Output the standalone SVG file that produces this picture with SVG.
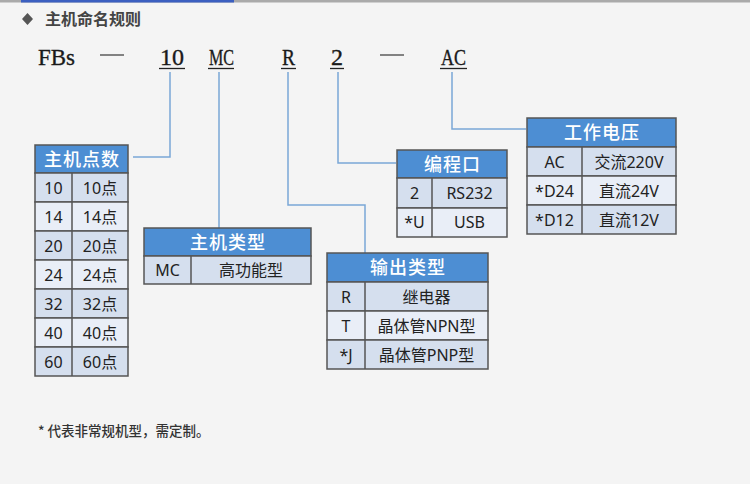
<svg xmlns="http://www.w3.org/2000/svg" width="750" height="484" viewBox="0 0 750 484">
<style>
.bg{fill:#f4f4f4}
.code{font-family:"Liberation Serif","DejaVu Serif",serif;font-size:23px;fill:#1a1a1a;stroke:#1a1a1a;stroke-width:0.35}
.ul{stroke:#222;stroke-width:1.3}
.conn{fill:none;stroke:#7aa7d6;stroke-width:1.5}
.hd{fill:#4d8ed3;stroke:#555;stroke-width:1.5}
.rd{fill:#d5dfee;stroke:#555;stroke-width:1.5}
.rl{fill:#e9eef7;stroke:#555;stroke-width:1.5}
.ht{font-family:"Noto Sans CJK SC","Noto Sans",sans-serif;font-size:18px;font-weight:500;letter-spacing:1px;fill:#fff;text-anchor:middle}
.ct{font-family:"Noto Sans","Noto Sans CJK SC",sans-serif;font-size:16px;fill:#222;text-anchor:middle}
.div{stroke:#555;stroke-width:1.5}
.title{font-family:"Noto Sans CJK SC",sans-serif;font-size:16px;font-weight:bold;fill:#444}
.note{font-family:"Noto Sans CJK SC",sans-serif;font-size:13.5px;font-weight:500;fill:#333}
</style>
<rect class="bg" x="0" y="0" width="750" height="484"/>
<rect x="0" y="0" width="750" height="2.5" fill="#aaaaaa"/>
<rect x="21" y="0" width="213" height="2.5" fill="#3b5fc0"/>

<g id="title">
<path d="M27.5,13 L33,19 L27.5,25 L22,19 Z" fill="#555"/>
<text class="title" x="45" y="25">主机命名规则</text>
</g>

<g id="code">
<text class="code" x="38" y="65" textLength="37" lengthAdjust="spacingAndGlyphs">FBs</text>
<line x1="100" y1="55" x2="124" y2="55" stroke="#444" stroke-width="1.3"/>
<text class="code" x="160" y="65" textLength="24" lengthAdjust="spacingAndGlyphs">10</text>
<line class="ul" x1="159" y1="68.5" x2="185" y2="68.5"/>
<text class="code" x="209" y="65" textLength="25" lengthAdjust="spacingAndGlyphs">MC</text>
<line class="ul" x1="208" y1="68.5" x2="234" y2="68.5"/>
<text class="code" x="282" y="65" textLength="13" lengthAdjust="spacingAndGlyphs">R</text>
<line class="ul" x1="281" y1="68.5" x2="296" y2="68.5"/>
<text class="code" x="331" y="65" textLength="12" lengthAdjust="spacingAndGlyphs">2</text>
<line class="ul" x1="330" y1="68.5" x2="344" y2="68.5"/>
<line x1="380" y1="55" x2="404" y2="55" stroke="#444" stroke-width="1.3"/>
<text class="code" x="441" y="65" textLength="25" lengthAdjust="spacingAndGlyphs">AC</text>
<line class="ul" x1="440" y1="68.5" x2="467" y2="68.5"/>
</g>

<g id="connectors">
<path class="conn" d="M170,72 V157 H133"/>
<path class="conn" d="M219,72 V228"/>
<path class="conn" d="M288,72 V205 H365 V253"/>
<path class="conn" d="M338,72 V163 H396"/>
<path class="conn" d="M452,72 V129 H526"/>
</g>

<g id="points">
<rect class="hd" x="35" y="145" width="93" height="28"/>
<text class="ht" x="82" y="165.5">主机点数</text>
<rect class="rd" x="35" y="173" width="93" height="29"/>
<rect class="rl" x="35" y="202" width="93" height="29"/>
<rect class="rd" x="35" y="231" width="93" height="29"/>
<rect class="rl" x="35" y="260" width="93" height="29"/>
<rect class="rd" x="35" y="289" width="93" height="29"/>
<rect class="rl" x="35" y="318" width="93" height="29"/>
<rect class="rd" x="35" y="347" width="93" height="29"/>
<line class="div" x1="72" y1="173" x2="72" y2="376"/>
<text class="ct" x="53.5" y="193.5">10</text><text class="ct" x="100" y="193.5">10点</text>
<text class="ct" x="53.5" y="222.5">14</text><text class="ct" x="100" y="222.5">14点</text>
<text class="ct" x="53.5" y="251.5">20</text><text class="ct" x="100" y="251.5">20点</text>
<text class="ct" x="53.5" y="280.5">24</text><text class="ct" x="100" y="280.5">24点</text>
<text class="ct" x="53.5" y="309.5">32</text><text class="ct" x="100" y="309.5">32点</text>
<text class="ct" x="53.5" y="338.5">40</text><text class="ct" x="100" y="338.5">40点</text>
<text class="ct" x="53.5" y="367.5">60</text><text class="ct" x="100" y="367.5">60点</text>
</g>

<g id="type">
<rect class="hd" x="144" y="228" width="167" height="28"/>
<text class="ht" x="228" y="248.5">主机类型</text>
<rect class="rd" x="144" y="256" width="167" height="28"/>
<line class="div" x1="191" y1="256" x2="191" y2="284"/>
<text class="ct" x="167.5" y="276">MC</text>
<text class="ct" x="251" y="276">高功能型</text>
</g>

<g id="output">
<rect class="hd" x="327" y="253" width="161" height="29"/>
<text class="ht" x="408" y="274">输出类型</text>
<rect class="rd" x="327" y="282" width="161" height="29"/>
<rect class="rl" x="327" y="311" width="161" height="29"/>
<rect class="rd" x="327" y="340" width="161" height="29"/>
<line class="div" x1="365" y1="282" x2="365" y2="369"/>
<text class="ct" x="346" y="302.5">R</text><text class="ct" x="426.5" y="302.5">继电器</text>
<text class="ct" x="346" y="331.5">T</text><text class="ct" x="426.5" y="331.5">晶体管NPN型</text>
<text class="ct" x="346" y="360.5">*J</text><text class="ct" x="426.5" y="360.5">晶体管PNP型</text>
</g>

<g id="port">
<rect class="hd" x="397" y="150" width="110" height="28"/>
<text class="ht" x="452.5" y="170.5">编程口</text>
<rect class="rd" x="397" y="178" width="110" height="30"/>
<rect class="rl" x="397" y="208" width="110" height="29"/>
<line class="div" x1="432" y1="178" x2="432" y2="237"/>
<text class="ct" x="414.5" y="199">2</text><text class="ct" x="469.5" y="199">RS232</text>
<text class="ct" x="414.5" y="228">*U</text><text class="ct" x="469.5" y="228">USB</text>
</g>

<g id="voltage">
<rect class="hd" x="527" y="118" width="149" height="29"/>
<text class="ht" x="602" y="139">工作电压</text>
<rect class="rd" x="527" y="147" width="149" height="29"/>
<rect class="rl" x="527" y="176" width="149" height="29"/>
<rect class="rd" x="527" y="205" width="149" height="29"/>
<line class="div" x1="582" y1="147" x2="582" y2="234"/>
<text class="ct" x="554.5" y="167.5">AC</text><text class="ct" x="629" y="167.5">交流220V</text>
<text class="ct" x="554.5" y="196.5">*D24</text><text class="ct" x="629" y="196.5">直流24V</text>
<text class="ct" x="554.5" y="225.5">*D12</text><text class="ct" x="629" y="225.5">直流12V</text>
</g>

<text class="note" x="38" y="436">* 代表非常规机型，需定制。</text>
</svg>
